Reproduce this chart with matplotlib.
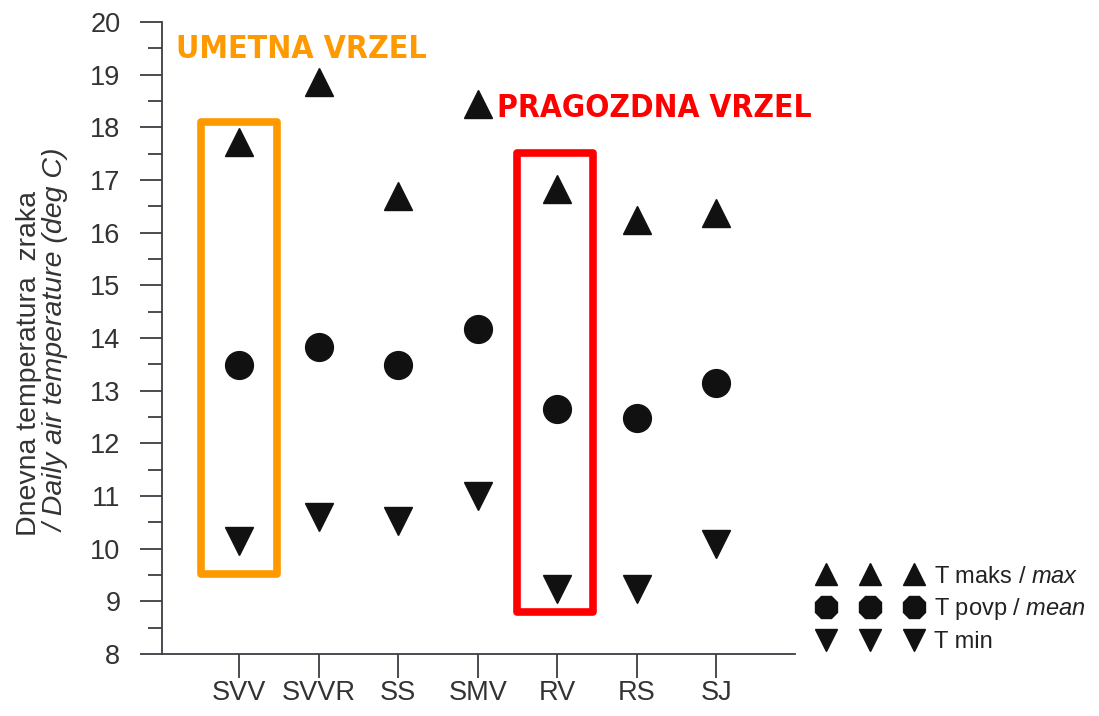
import matplotlib.pyplot as plt
from matplotlib.lines import Line2D
from matplotlib.patches import Rectangle

plt.rcParams['font.family'] = ['Liberation Sans', 'DejaVu Sans']
plt.rcParams['mathtext.fontset'] = 'custom'
plt.rcParams['mathtext.rm'] = 'Liberation Sans'
plt.rcParams['mathtext.it'] = 'Liberation Sans:italic'

sites = ['SVV', 'SVVR', 'SS', 'SMV', 'RV', 'RS', 'SJ']
t_max = [17.72, 18.86, 16.70, 18.44, 16.83, 16.24, 16.38]
t_mean = [13.49, 13.83, 13.49, 14.17, 12.66, 12.49, 13.15]
t_min = [10.15, 10.61, 10.53, 11.00, 9.24, 9.24, 10.09]

ax_col = '#3a3f44'
fs = 19.5

fig = plt.figure(figsize=(10.99, 7.16), dpi=100)
ax = fig.add_axes([0.1474, 0.0866, 0.576, 0.8827])

x = list(range(len(sites)))
ax.plot(x, t_max, '^', color='#111111', ms=19.5, ls='none')
ax.plot(x, t_mean, 'o', color='#111111', ms=20, ls='none')
ax.plot(x, t_min, 'v', color='#111111', ms=19.5, ls='none')

ax.set_xlim(-0.97, 6.99)
ax.set_ylim(8, 20)
ax.set_xticks(x)
ax.set_xticklabels(sites)
ax.set_yticks(range(8, 21))
ax.set_yticks([v + 0.5 for v in range(8, 20)], minor=True)

for s in ['top', 'right']:
    ax.spines[s].set_visible(False)
for s in ['left', 'bottom']:
    ax.spines[s].set_color(ax_col)
    ax.spines[s].set_linewidth(1.3)

ax.tick_params(axis='y', which='major', length=16, width=1.3, color=ax_col,
               labelsize=fs, labelcolor='#333333', pad=14)
ax.tick_params(axis='y', which='minor', length=10, width=1.3, color=ax_col)
ax.tick_params(axis='x', length=17, width=1.3, color=ax_col,
               labelsize=fs, labelcolor='#333333', pad=2)

# highlight boxes
ax.add_patch(Rectangle((-0.478, 9.51), 0.95, 8.60, fill=False, ec='#ff9900',
                       lw=5.5, joinstyle='round', clip_on=False, zorder=1))
ax.add_patch(Rectangle((3.49, 8.79), 0.957, 8.73, fill=False, ec='#ff0000',
                       lw=5.5, joinstyle='round', clip_on=False, zorder=1))

ax.text(-0.80, 19.47, 'UMETNA VRZEL', color='#ff9900', fontsize=23,
        fontweight='bold', family='DejaVu Sans', fontstretch='condensed',
        ha='left', va='center', clip_on=False)
ax.text(3.24, 18.35, 'PRAGOZDNA VRZEL', color='#ff0000', fontsize=22.8,
        fontweight='bold', family='DejaVu Sans', fontstretch='condensed',
        ha='left', va='center', clip_on=False)

# y label, two lines
fig.text(29 / 1099, 1 - 536 / 716, 'Dnevna temperatura  zraka', rotation=90,
         rotation_mode='anchor', ha='left', va='center', fontsize=20.5, color='#333333')
fig.text(57 / 1099, 1 - 532 / 716, '/ Daily air temperature (deg C)', rotation=90,
         rotation_mode='anchor', ha='left', va='center', fontsize=20.5, color='#333333',
         style='italic')

handles = [
    Line2D([], [], marker='^', color='#111111', ls='none', ms=16),
    Line2D([], [], marker='8', color='#111111', ls='none', ms=17),
    Line2D([], [], marker='v', color='#111111', ls='none', ms=16),
]
labels = [r'T maks / $\mathit{max}$', r'T povp / $\mathit{mean}$', 'T min']
fig.legend(handles, labels, loc='upper left', bbox_to_anchor=(0.745, 0.21),
           frameon=False, numpoints=3, handlelength=4.35, handletextpad=0.55,
           labelspacing=0.37, borderpad=0, borderaxespad=0, fontsize=17,
           labelcolor='#222222')

fig.savefig('out.png', dpi=100)
